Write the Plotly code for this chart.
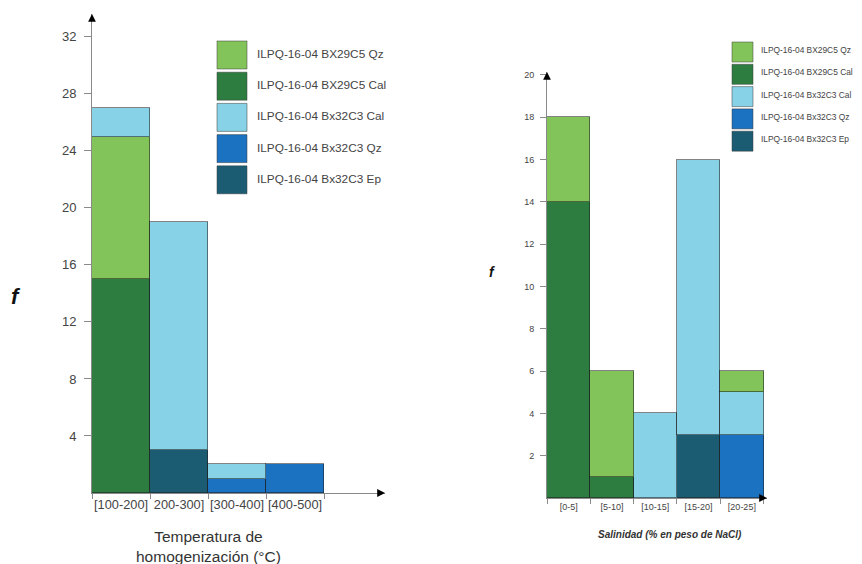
import plotly.graph_objects as go

# ---------------- data ----------------
series_names = ["ILPQ-16-04 BX29C5 Qz", "ILPQ-16-04 BX29C5 Cal", "ILPQ-16-04 Bx32C3 Cal",
                "ILPQ-16-04 Bx32C3 Qz", "ILPQ-16-04 Bx32C3 Ep"]
series_colors = ["#82c45a", "#2e7d40", "#87d2e6", "#1a72c0", "#1b5c73"]

temp_cats = ["[100-200]", "200-300]", "[300-400]", "[400-500]"]
temp_bx29_qz = [10, 0, 0, 0]
temp_bx29_cal = [15, 0, 0, 0]
temp_bx32_cal = [2, 16, 1, 0]
temp_bx32_qz = [0, 0, 1, 2]
temp_bx32_ep = [0, 3, 0, 0]
temp_yticks = [4, 8, 12, 16, 20, 24, 28, 32]

sal_cats = ["[0-5]", "[5-10]", "[10-15]", "[15-20]", "[20-25]"]
sal_bx29_qz = [4, 5, 0, 0, 1]
sal_bx29_cal = [14, 1, 0, 0, 0]
sal_bx32_cal = [0, 0, 4, 13, 2]
sal_bx32_qz = [0, 0, 0, 0, 3]
sal_bx32_ep = [0, 0, 0, 3, 0]
sal_yticks = [2, 4, 6, 8, 10, 12, 14, 16, 18, 20]

# page body adds an 8px offset; figure sized to fit the window after it
OFF = 8
W, H = 862 - OFF, 564 - OFF
FONT = "Liberation Sans, Arial, sans-serif"


def px(x):
    return (x - OFF) / W


def py(y):
    return 1 - (y - OFF) / H


def nz(vals):
    return [v if v else None for v in vals]


fig = go.Figure()
OUT = "rgba(30,30,30,0.55)"

# Left chart, bottom -> top stacking order
left_stack = [(1, temp_bx29_cal), (4, temp_bx32_ep), (3, temp_bx32_qz), (0, temp_bx29_qz), (2, temp_bx32_cal)]
for idx, vals in left_stack:
    fig.add_trace(go.Bar(x=temp_cats, y=nz(vals), name=series_names[idx], marker_color=series_colors[idx],
                         marker_line=dict(color=OUT, width=1), xaxis="x", yaxis="y", showlegend=False))

# Right chart
right_stack = [(1, sal_bx29_cal), (4, sal_bx32_ep), (3, sal_bx32_qz), (2, sal_bx32_cal), (0, sal_bx29_qz)]
for idx, vals in right_stack:
    fig.add_trace(go.Bar(x=sal_cats, y=nz(vals), name=series_names[idx], marker_color=series_colors[idx],
                         marker_line=dict(color=OUT, width=1), xaxis="x2", yaxis="y2", showlegend=False))

AX = "#8a8a8a"
fig.update_layout(
    width=W, height=H, margin=dict(l=0, r=0, t=0, b=0, autoexpand=False),
    paper_bgcolor="white", plot_bgcolor="white",
    barmode="stack", bargap=0,
    font=dict(family=FONT, color="#444"),
    xaxis=dict(domain=[px(92), px(385)], range=[-0.5, 4.55], type="category", anchor="y", automargin=False,
               showline=True, linecolor=AX, linewidth=1, ticks="outside", ticklen=5, tickcolor=AX,
               tickson="boundaries", tickangle=0, tickfont=dict(size=12.8, color="#444"),
               showgrid=False, zeroline=False),
    yaxis=dict(domain=[py(493), py(14)], range=[0, 33.6], anchor="x", automargin=False,
               showline=True, linecolor=AX, linewidth=1, ticks="outside", ticklen=7, tickcolor=AX,
               ticklabelstandoff=5,
               tickvals=temp_yticks, tickfont=dict(size=13, color="#444"), showgrid=False, zeroline=False),
    xaxis2=dict(domain=[px(547), px(767)], range=[-0.5, 4.58], type="category", anchor="y2", automargin=False,
                showline=True, linecolor=AX, linewidth=1, ticks="outside", ticklen=5, tickcolor=AX,
                tickson="boundaries", tickangle=0, tickfont=dict(size=9, color="#444"),
                showgrid=False, zeroline=False),
    yaxis2=dict(domain=[py(498), py(72)], range=[0, 20.14], anchor="x2", automargin=False,
                showline=True, linecolor=AX, linewidth=1, ticks="outside", ticklen=6, tickcolor=AX,
                ticklabelstandoff=4,
                tickvals=sal_yticks, tickfont=dict(size=9, color="#444"), showgrid=False, zeroline=False),
)

# axis arrowheads
for xr, yr in [("x", "y"), ("x2", "y2")]:
    fig.add_annotation(x=1, y=0, xref=f"{xr} domain", yref=f"{yr} domain", ax=-6, ay=0,
                       showarrow=True, arrowhead=2, arrowsize=1.3, arrowwidth=1.2, arrowcolor="black", text="")
    fig.add_annotation(x=0, y=1, xref=f"{xr} domain", yref=f"{yr} domain", ax=0, ay=6,
                       showarrow=True, arrowhead=2, arrowsize=1.3, arrowwidth=1.2, arrowcolor="black", text="")

# axis titles
fig.add_annotation(x=px(16), y=py(296), xref="paper", yref="paper", text="<b><i>f</i></b>",
                   xanchor="center", yanchor="middle",
                   showarrow=False, font=dict(size=22, color="#111", family=FONT))
fig.add_annotation(x=px(492), y=py(272), xref="paper", yref="paper", text="<b><i>f</i></b>",
                   xanchor="center", yanchor="middle",
                   showarrow=False, font=dict(size=14, color="#111", family=FONT))
fig.add_annotation(x=px(208), y=py(546), xref="paper", yref="paper",
                   text="Temperatura de<br>homogenización (°C)", showarrow=False,
                   xanchor="center", yanchor="middle",
                   font=dict(size=15.5, color="#333", family=FONT))
fig.add_annotation(x=px(670), y=py(534), xref="paper", yref="paper",
                   text="<b><i>Salinidad (% en peso de NaCl)</i></b>", showarrow=False,
                   xanchor="center", yanchor="middle",
                   font=dict(size=10, color="#333", family=FONT))

# manual legends
shapes = []
# left legend
for i, (name, col) in enumerate(zip(series_names, series_colors)):
    top = 41 + i * 31.2
    shapes.append(dict(type="rect", xref="paper", yref="paper", x0=px(217), x1=px(247),
                       y0=py(top + 28), y1=py(top), fillcolor=col, line=dict(color="rgba(60,60,60,0.5)", width=1)))
    fig.add_annotation(x=px(255), y=py(top + 13), xref="paper", yref="paper", text=name, showarrow=False,
                       xanchor="left", yanchor="middle", font=dict(size=11.8, color="#444", family=FONT))
# right legend
for i, (name, col) in enumerate(zip(series_names, series_colors)):
    top = 42 + i * 22.3
    shapes.append(dict(type="rect", xref="paper", yref="paper", x0=px(732), x1=px(753),
                       y0=py(top + 20), y1=py(top), fillcolor=col, line=dict(color="rgba(60,60,60,0.5)", width=1)))
    fig.add_annotation(x=px(759), y=py(top + 8), xref="paper", yref="paper", text=name, showarrow=False,
                       xanchor="left", yanchor="middle", font=dict(size=8.4, color="#444", family=FONT))
fig.update_layout(shapes=shapes)

fig.write_html("out.html")
